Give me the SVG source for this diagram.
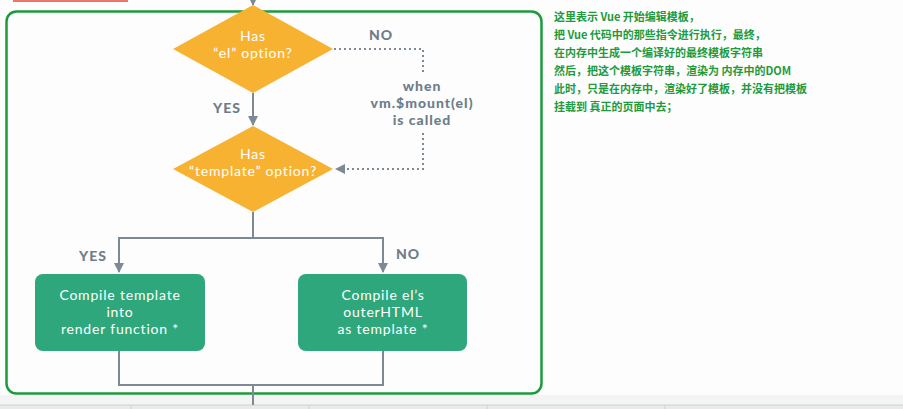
<svg xmlns="http://www.w3.org/2000/svg" width="903" height="409" viewBox="0 0 903 409">
<defs>
<style>
.lbl{font-family:Lato,"Liberation Sans",sans-serif;font-size:14px;letter-spacing:0.8px;fill:#ffffff;text-anchor:middle}
.g{font-family:Lato,"Liberation Sans",sans-serif;font-size:14px;font-weight:900;letter-spacing:1px;fill:#6f7d8b;text-anchor:middle}
.cn{font-family:"Noto Sans CJK SC","Noto Sans",sans-serif;font-size:11px;font-weight:bold;fill:#1f9a3c}
.ln{fill:none;stroke:#7d8a96;stroke-width:2}
.dt{fill:none;stroke:#7d8a96;stroke-width:2;stroke-dasharray:2 3}
.dia{fill:#f8b232}
.box{fill:#2ea77c}
</style>
<marker id="ah" viewBox="0 0 10 10" refX="9" refY="5" markerWidth="5" markerHeight="5" orient="auto-start-reverse" markerUnits="strokeWidth">
<path d="M0,0 L10,5 L0,10 z" fill="#7d8a96"/>
</marker>
</defs>
<rect x="0" y="0" width="903" height="409" fill="#fcfdfc"/>
<rect x="0" y="395" width="903" height="10" fill="#f3f4f3"/>
<rect x="0" y="405" width="903" height="4" fill="#e9eaea"/>
<line x1="0" y1="405" x2="903" y2="405" stroke="#cfd1d1" stroke-width="1"/>
<g stroke="#cfd1d1" stroke-width="1">
<line x1="131" y1="405" x2="131" y2="409"/>
<line x1="309" y1="405" x2="309" y2="409"/>
<line x1="487" y1="405" x2="487" y2="409"/>
<line x1="665" y1="405" x2="665" y2="409"/>
</g>
<rect x="13" y="0" width="115" height="2" fill="#f0736a"/>
<rect x="6.5" y="11.5" width="535" height="382" rx="10" fill="none" stroke="#1e9a3e" stroke-width="2.5"/>

<g id="connectors">
<line class="ln" x1="253" y1="0" x2="253" y2="5" marker-end="url(#ah)"/>
<line class="ln" x1="253" y1="93" x2="253" y2="125" marker-end="url(#ah)"/>
<polyline class="dt" points="334,49 423,49 423,74"/>
<polyline class="dt" points="423,133 423,169 336,169" marker-end="url(#ah)"/>
<polyline class="ln" points="253,212 253,238"/>
<polyline class="ln" points="119,272 119,238 383,238 383,272" marker-start="url(#ah)" marker-end="url(#ah)"/>
<polyline class="ln" points="119,351 119,385 383,385 383,351"/>
<line class="ln" x1="253" y1="385" x2="253" y2="405"/>
<text class="g" x="227" y="113">YES</text>
<text class="g" x="381" y="40">NO</text>
<text class="g" x="422" y="91">when</text>
<text class="g" x="422" y="108">vm.$mount(el)</text>
<text class="g" x="422" y="125">is called</text>
<text class="g" x="93" y="261">YES</text>
<text class="g" x="408" y="259">NO</text>
</g>

<g id="has-el">
<polygon class="dia" points="253,5 333,49 253,93 173,49"/>
<text class="lbl" x="253" y="41">Has</text>
<text class="lbl" x="253" y="58">“el” option?</text>
</g>

<g id="has-template">
<polygon class="dia" points="253,126 333,169 253,212 173,169"/>
<text class="lbl" x="253" y="159">Has</text>
<text class="lbl" x="253" y="176">“template” option?</text>
</g>

<g id="compile-template">
<rect class="box" x="35" y="274" width="170" height="77" rx="8"/>
<text class="lbl" x="120" y="300">Compile template</text>
<text class="lbl" x="120" y="317">into</text>
<text class="lbl" x="120" y="334">render function *</text>
</g>

<g id="compile-el">
<rect class="box" x="298" y="274" width="169" height="77" rx="8"/>
<text class="lbl" x="383" y="300">Compile el’s</text>
<text class="lbl" x="383" y="317">outerHTML</text>
<text class="lbl" x="383" y="334">as template *</text>
</g>

<g id="note">
<text class="cn" x="554" y="21">这里表示 Vue 开始编辑模板，</text>
<text class="cn" x="554" y="39">把 Vue 代码中的那些指令进行执行，最终，</text>
<text class="cn" x="554" y="57">在内存中生成一个编译好的最终模板字符串</text>
<text class="cn" x="554" y="75">然后，把这个模板字符串，渲染为 内存中的DOM</text>
<text class="cn" x="554" y="93">此时，只是在内存中，渲染好了模板，并没有把模板</text>
<text class="cn" x="554" y="111">挂载到 真正的页面中去；</text>
</g>
</svg>
